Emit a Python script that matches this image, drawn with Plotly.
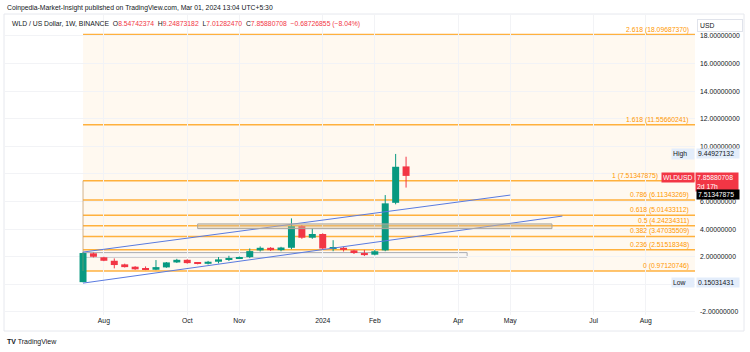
import plotly.graph_objects as go

# ---------------- data ----------------
dates = ["2023-07-24", "2023-07-31", "2023-08-07", "2023-08-14", "2023-08-21", "2023-08-28",
         "2023-09-04", "2023-09-11", "2023-09-18", "2023-09-25", "2023-10-02", "2023-10-09",
         "2023-10-16", "2023-10-23", "2023-10-30", "2023-11-06", "2023-11-13", "2023-11-20",
         "2023-11-27", "2023-12-04", "2023-12-11", "2023-12-18", "2023-12-25", "2024-01-01",
         "2024-01-08", "2024-01-15", "2024-01-22", "2024-01-29", "2024-02-05", "2024-02-12",
         "2024-02-19", "2024-02-26"]
opens  = [0.16, 2.25, 1.96, 1.71, 1.45, 1.28, 1.16, 1.06, 1.23, 1.59, 1.78, 1.56, 1.49, 1.64,
          1.83, 1.88, 1.98, 2.46, 2.65, 2.48, 2.65, 4.22, 3.38, 3.65, 2.60, 2.65, 2.46, 2.27,
          2.15, 2.46, 5.91, 8.54742374]
highs  = [2.32, 2.30, 2.00, 1.88, 1.50, 1.32, 1.30, 1.76, 1.62, 1.85, 1.82, 1.60, 1.70, 1.98,
          2.07, 2.02, 2.60, 2.75, 2.70, 2.72, 4.78, 4.30, 4.06, 3.70, 3.20, 2.72, 2.50, 2.50,
          2.50, 6.47, 9.44927132, 9.24873182]
lows   = [0.15031431, 1.95, 1.68, 1.16, 1.22, 1.05, 1.03, 1.03, 1.20, 1.55, 1.50, 1.45, 1.44,
          1.52, 1.69, 1.85, 1.90, 2.38, 2.42, 2.40, 2.55, 3.30, 3.30, 2.50, 2.40, 2.38, 2.20,
          2.05, 2.10, 2.40, 5.80, 7.01282470]
closes = [2.27, 2.00, 1.71, 1.40, 1.25, 1.09, 1.06, 1.25, 1.59, 1.78, 1.54, 1.49, 1.64, 1.81,
          1.88, 1.98, 2.41, 2.65, 2.48, 2.67, 4.22, 3.38, 3.65, 2.60, 2.62, 2.50, 2.27, 2.12,
          2.40, 5.87, 8.52, 7.85880708]

fib_ratios = ["0", "0.236", "0.382", "0.5", "0.618", "0.786", "1", "1.618", "2.618"]
fib_prices = [0.97120746, 2.51518348, 3.47035509, 4.24234311, 5.01433112, 6.11343269,
              7.51347875, 11.55660241, 18.09687370]
fib_start = "2023-07-24"

upper_line_x = ["2023-07-24", "2024-05-06"]
upper_line_y = [2.34, 6.47]
lower_line_x = ["2023-07-24", "2024-06-10"]
lower_line_y = [0.09, 4.95]

rect1_x = ["2023-10-09", "2024-06-03"]
rect1_y = [4.04, 4.38]
rect2_x = ["2023-07-24", "2024-04-07"]
rect2_y = [1.98, 2.30]

ytick_vals = [-2, 0, 2, 4, 6, 8, 10, 12, 14, 16, 18]
ytick_text = ["-2.00000000", "", "2.00000000", "4.00000000", "6.00000000", "",
              "10.00000000", "12.00000000", "14.00000000", "16.00000000", "18.00000000"]
xtick_vals = ["2023-08-07", "2023-10-02", "2023-11-06", "2024-01-01", "2024-02-05",
              "2024-04-01", "2024-05-06", "2024-07-01", "2024-08-05"]
xtick_text = ["Aug", "Oct", "Nov", "2024", "Feb", "Apr", "May", "Jul", "Aug"]

last_price = 7.85880708
high_price = 9.44927132
low_price = 0.15031431

# ---------------- layout helpers ----------------
W, H = 750, 352
ML, MR, MT, MB = 5, 55, 14, 37
PW = W - ML - MR
PH = H - MT - MB


def px(x):
    return (x - ML) / PW


def py(y):
    return (H - MB - y) / PH


FONT = "Liberation Sans"
GREEN = "#089981"
RED = "#F23645"
ORANGE = "#FF9800"
TXT = "#131722"
FS = 6.8

fig = go.Figure()

# fib background and lines
fig.add_shape(type="rect", xref="x", yref="y", x0=fib_start, x1="2025-06-01",
              y0=fib_prices[0], y1=fib_prices[-1], fillcolor="rgba(255,152,0,0.06)",
              line_width=0, layer="below")
for r, p in zip(fib_ratios, fib_prices):
    fig.add_shape(type="line", xref="x", yref="y", x0=fib_start, x1="2025-06-01",
                  y0=p, y1=p, line=dict(color="rgba(255,152,0,0.75)", width=1.5), layer="below")
    shift = -36 if r == "1" else -5
    fig.add_annotation(xref="paper", yref="y", x=1, y=p, xanchor="right", yanchor="bottom",
                       xshift=shift, text=f"{r} ({p:.8f})", showarrow=False,
                       font=dict(family=FONT, size=FS, color=ORANGE), borderpad=0)
# fib anchor line
fig.add_trace(go.Scatter(x=[fib_start, fib_start], y=[fib_prices[0], fib_prices[6]],
                         mode="lines", line=dict(color="rgba(200,160,110,0.8)", width=1),
                         hoverinfo="skip", showlegend=False))

# rectangles
fig.add_shape(type="rect", xref="x", yref="y", x0=rect1_x[0], x1=rect1_x[1],
              y0=rect1_y[0], y1=rect1_y[1], fillcolor="rgba(215,190,150,0.45)",
              line=dict(color="#aaa69f", width=1), layer="above")
fig.add_shape(type="rect", xref="x", yref="y", x0=rect2_x[0], x1=rect2_x[1],
              y0=rect2_y[0], y1=rect2_y[1], fillcolor="rgba(245,245,245,0.4)",
              line=dict(color="#a9abb2", width=1), layer="below")

# candles
wick_g_x, wick_g_y, wick_r_x, wick_r_y = [], [], [], []
colors, base, body = [], [], []
for d, o, h, l, c in zip(dates, opens, highs, lows, closes):
    up = c >= o
    colors.append(GREEN if up else RED)
    base.append(min(o, c))
    body.append(max(abs(c - o), 0.05))
    if up:
        wick_g_x += [d, d, None]
        wick_g_y += [l, h, None]
    else:
        wick_r_x += [d, d, None]
        wick_r_y += [l, h, None]

fig.add_trace(go.Scatter(x=wick_g_x, y=wick_g_y, mode="lines",
                         line=dict(color=GREEN, width=1), hoverinfo="skip", showlegend=False))
fig.add_trace(go.Scatter(x=wick_r_x, y=wick_r_y, mode="lines",
                         line=dict(color=RED, width=1), hoverinfo="skip", showlegend=False))
fig.add_trace(go.Bar(x=dates, y=body, base=base, marker=dict(color=colors, line_width=0),
                     width=0.67 * 7 * 24 * 3600 * 1000, showlegend=False))

# channel lines
for lx, ly in [(upper_line_x, upper_line_y), (lower_line_x, lower_line_y)]:
    fig.add_trace(go.Scatter(x=lx, y=ly, mode="lines", line=dict(color="#5a7be0", width=1),
                             hoverinfo="skip", showlegend=False))

# price-scale labels
def box(text, y, anchor, bg, fg, yanchor="middle", yshift=0, width=None, xshift=0):
    fig.add_annotation(xref="paper", yref="y", x=1, y=y, xanchor=anchor, yanchor=yanchor,
                       yshift=yshift, xshift=xshift, text=text, showarrow=False, bgcolor=bg,
                       font=dict(family=FONT, size=FS, color=fg), borderpad=1,
                       width=width, align="left")


box("High", high_price, "right", "#e3edfb", TXT, width=20)
box(f"{high_price:.8f}", high_price, "left", "#e3edfb", TXT, width=40, xshift=1)
box("Low", low_price, "right", "#e3edfb", TXT, width=20)
box(f"{low_price:.8f}", low_price, "left", "#e3edfb", TXT, width=40, xshift=1)
box("WLDUSD", last_price, "right", RED, "white", yanchor="top", yshift=4, width=30)
box(f"{last_price:.8f}<br>2d 17h", last_price, "left", RED, "white", yanchor="top",
    yshift=4, width=40, xshift=0)
box(f"{fib_prices[6]:.8f}", fib_prices[6], "left", "#000000", "white", yanchor="top",
    yshift=-8.5, width=40, xshift=1)

fig.add_annotation(xref="paper", yref="paper", x=px(697), y=py(25), xanchor="left",
                   yanchor="middle", text="USD", showarrow=False, bgcolor="white",
                   bordercolor="#e0e3eb", borderwidth=1, borderpad=2, width=40, align="left",
                   font=dict(family=FONT, size=FS, color=TXT))

# headers
fig.add_annotation(xref="paper", yref="paper", x=px(5), y=py(8), xanchor="left",
                   yanchor="middle", showarrow=False,
                   text="Coinpedia-Market-Insight published on TradingView.com, Mar 01, 2024 13:04 UTC+5:30",
                   font=dict(family=FONT, size=FS, color=TXT))
sp = f"<span style='color:{RED}'>"
hdr = ("WLD / US Dollar, 1W, BINANCE  O" + sp + "8.54742374</span>  H" + sp +
       "9.24873182</span>  L" + sp + "7.01282470</span>  C" + sp + "7.85880708</span>  " +
       sp + "\u22120.68726855 (\u22128.04%)</span>")
fig.add_annotation(xref="paper", yref="paper", x=px(10), y=py(24), xanchor="left",
                   yanchor="middle", showarrow=False, text=hdr,
                   font=dict(family=FONT, size=FS, color=TXT))
fig.add_annotation(xref="paper", yref="paper", x=px(5), y=py(342), xanchor="left",
                   yanchor="middle", showarrow=False, text="<b>TV</b> TradingView",
                   font=dict(family=FONT, size=7, color=TXT))

# frame
fig.add_shape(type="rect", xref="paper", yref="paper", x0=px(4), x1=px(744), y0=py(14),
              y1=py(331), line=dict(color="#e6e8ee", width=1), fillcolor="rgba(0,0,0,0)",
              layer="below")

fig.update_layout(
    width=W, height=H, margin=dict(l=ML, r=MR, t=MT, b=MB),
    paper_bgcolor="white", plot_bgcolor="white", showlegend=False, barmode="overlay",
    font=dict(family=FONT, size=FS, color=TXT),
    xaxis=dict(type="date", range=["2023-06-01 14:00", "2024-09-07 02:00"],
               tickvals=xtick_vals, ticktext=xtick_text, showgrid=True, gridcolor="#f2f3f6",
               zeroline=False, showline=False, ticks="", tickfont=dict(size=FS, color=TXT),
               rangeslider=dict(visible=False), fixedrange=True),
    yaxis=dict(side="right", range=[-2.22, 19.59], tickvals=ytick_vals, ticktext=ytick_text,
               showgrid=True, gridcolor="#f2f3f6", zeroline=False, showline=False, ticks="",
               ticklabelstandoff=4, tickfont=dict(size=FS, color=TXT), fixedrange=True),
)

fig.write_html("out.html")
